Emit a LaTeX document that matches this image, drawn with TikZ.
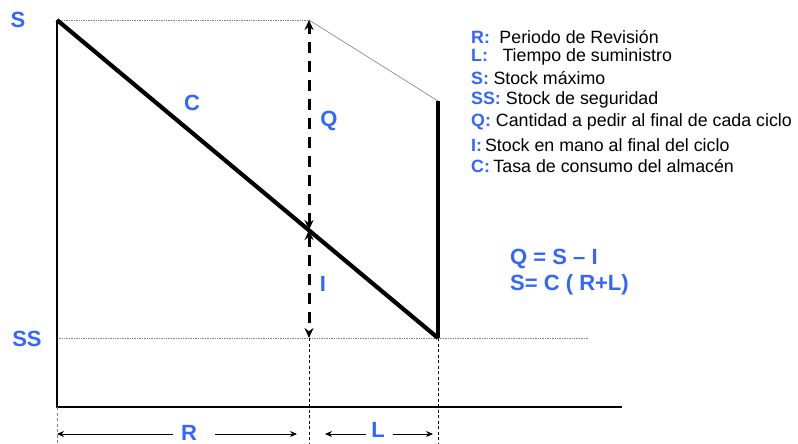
\documentclass[tikz,border=0pt]{standalone}
\usepackage{fontspec}
\setmainfont{Liberation Sans}
\usetikzlibrary{arrows.meta}
\definecolor{lblue}{HTML}{3366FF}
\begin{document}
\begin{tikzpicture}[x=1pt,y=-1pt,
  lbl/.style={text=lblue,font=\bfseries\fontsize{22}{22}\selectfont,inner sep=0pt},
  eq/.style={text=lblue,font=\bfseries\fontsize{22}{24}\selectfont,inner sep=0pt,anchor=west},
  leg/.style={font=\fontsize{17.8}{18}\selectfont,inner sep=0pt,anchor=west},
  guide/.style={gray,densely dotted,line width=0.7pt},
  vdash/.style={black,dashed,line width=0.6pt,dash pattern=on 3pt off 2.5pt},
  qarrow/.style={line width=3pt,dash pattern=on 11pt off 8pt,{Stealth[length=10pt,width=9pt]}-{Stealth[length=10pt,width=9pt]}},
  dim/.style={line width=0.9pt,-{Stealth[length=7pt,width=6pt]}}]
\useasboundingbox (0,0) rectangle (798,444);
% key coordinates
\coordinate (S0) at (57,20);
\coordinate (Stop) at (309,20);
\coordinate (M) at (309,230);
\coordinate (SSr) at (309,338);
\coordinate (E) at (438,338);
\coordinate (Etop) at (438,101);
\coordinate (SSl) at (57,338);
\coordinate (SSend) at (588,338);
\coordinate (O) at (57,407);
\coordinate (Xend) at (622,407);
\coordinate (B0) at (57,444);
\coordinate (B1) at (309,444);
\coordinate (B2) at (438,444);
% guides
\draw[guide] (S0) -- (Stop);
\draw[gray,line width=0.6pt] (Stop) -- (Etop);
\draw[guide] (SSl) -- (SSend);
% axes
\draw[line width=1.6pt] (S0) -- (O) -- (Xend);
% vertical dashed guides
\draw[gray,line width=0.7pt,dash pattern=on 3pt off 2.5pt] (O) -- (B0);
\draw[vdash] (SSr) -- (B1);
\draw[vdash] (E) -- (B2);
% consumption line
\draw[line width=4.2pt] (S0) -- (E);
\draw[line width=4.5pt] (E) -- (Etop);
% Q and I arrows
\draw[qarrow] (M) -- (Stop);
\draw[qarrow] (M) -- (SSr);
% labels
\node[lbl] (lS) at (18,20) {S};
\node[lbl] (lSS) at (27,339) {SS};
\node[lbl] (lC) at (192,103) {C};
\node[lbl] (lQ) at (329,121) {Q};
\node[lbl] (lI) at (323,284) {I};
% R and L dims
\node[lbl] (lR) at (189,433) {R};
\node[lbl] (lL) at (378,430) {L};
\coordinate (Ra) at (173,434);
\coordinate (Rb) at (215,434);
\coordinate (La) at (366,434);
\coordinate (Lb) at (393,434);
\draw[dim] (Ra) -- (57,434);
\draw[dim] (Rb) -- (297,434);
\draw[dim] (La) -- (325,434);
\draw[dim] (Lb) -- (433,434);
% legend
\node[leg] (g1) at (471,37) {\textcolor{lblue}{\bfseries R:}\hspace{9.5pt}Periodo de Revisión};
\node[leg] (g2) at (471,57) {\textcolor{lblue}{\bfseries L:}\hspace{14.5pt}Tiempo de suministro};
\node[leg] (g3) at (471,78) {\textcolor{lblue}{\bfseries S:}\hspace{4.5pt}Stock máximo};
\node[leg] (g4) at (471,100) {\textcolor{lblue}{\bfseries SS:}\hspace{5pt}Stock de seguridad};
\node[leg] (g5) at (471,122) {\textcolor{lblue}{\bfseries Q:}\hspace{5pt}Cantidad a pedir al final de cada ciclo};
\node[leg] (g6) at (471,145) {\textcolor{lblue}{\bfseries I:}\hspace{3pt}Stock en mano al final del ciclo};
\node[leg] (g7) at (471,166) {\textcolor{lblue}{\bfseries C:}\hspace{3.5pt}Tasa de consumo del almacén};
% equations
\node[eq] (e1) at (510,259) {Q = S -- I};
\node[eq] (e2) at (510,285) {S= C ( R+L)};
\end{tikzpicture}
\end{document}
